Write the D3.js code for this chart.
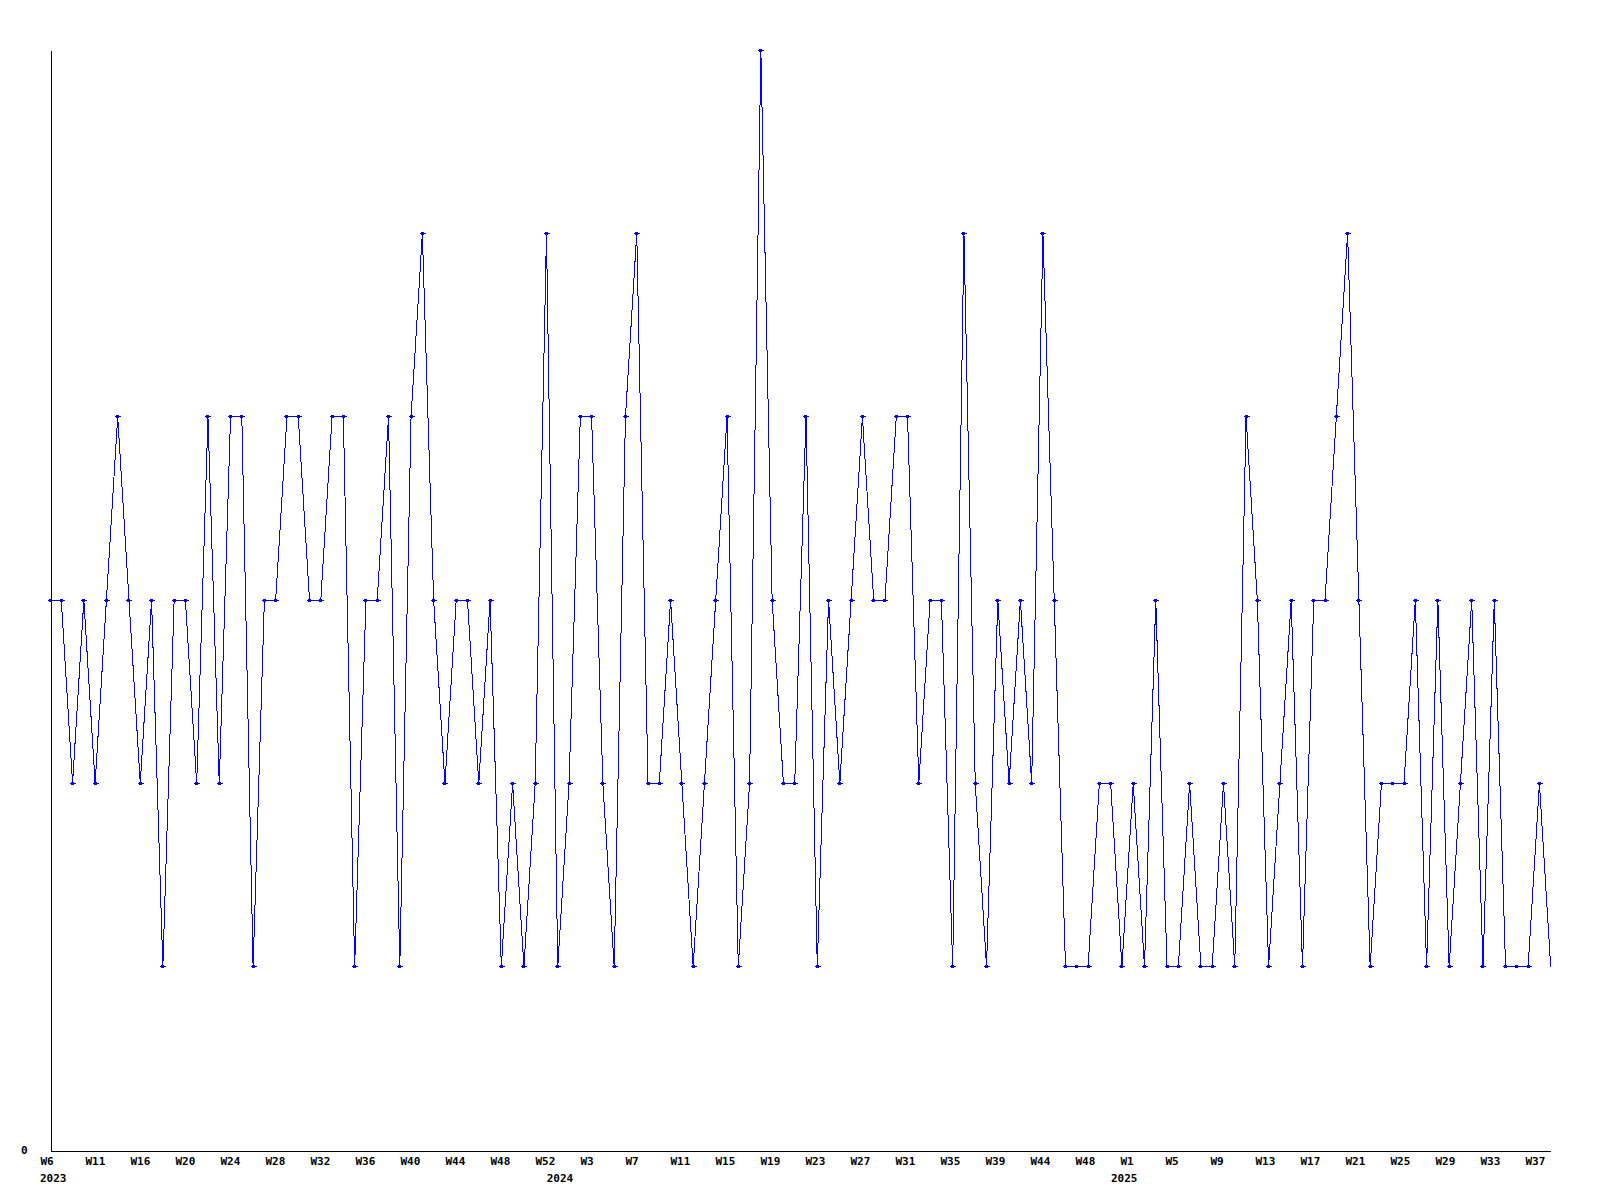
<!DOCTYPE html>
<html>
<head>
<meta charset="utf-8">
<script src="https://cdn.jsdelivr.net/npm/d3@7"></script>
<style>
  body { margin: 0; background: #fff; }
  svg { display: block; }
  .lbl { font-family: "DejaVu Sans Mono", monospace; font-size: 11px; font-weight: bold; fill: #000; }
</style>
</head>
<body>
<svg width="1600" height="1200"></svg>
<script>
// weekly values, W6 2023 onwards
const values = [
  3,3,2,3,2,3,4,3,2,3,1,3,3,2,4,2,4,4,1,3,3,4,4,
  3,3,4,4,1,3,3,4,1,4,5,3,2,3,3,2,3,1,2,1,2,5,
  1,2,4,4,2,1,4,5,2,2,3,2,1,2,3,4,1,2,6,3,2,2,
  4,1,3,2,3,4,3,3,4,4,2,3,3,1,5,2,1,3,2,3,2,5,3,
  1,1,1,2,2,1,2,1,3,1,1,2,1,1,2,1,4,3,1,2,3,1,
  3,3,4,5,3,1,2,2,2,3,1,3,1,2,3,1,3,1,1,1,2,1
];
const tickLabels = ["W6","W11","W16","W20","W24","W28","W32","W36","W40","W44","W48","W52",
  "W3","W7","W11","W15","W19","W23","W27","W31","W35","W39","W44","W48",
  "W1","W5","W9","W13","W17","W21","W25","W29","W33","W37"];
const yearLabels = ["2023","2024","2025"];
const yearAt = [0, 11.26, 23.8]; // in tick steps

let svg = d3.select("svg");

let x = d3.scaleLinear().domain([0, values.length - 1]).range([50, 1550.7]);
let y = d3.scaleLinear().domain([0, 6]).range([1150, 50]);
let tickX = d3.scaleLinear().domain([0, tickLabels.length - 1]).range([40, 40 + 45 * (tickLabels.length - 1)]);

// axis lines
svg.append("g")
   .attr("transform", "translate(0,1150.5)")
   .call(d3.axisBottom(x).tickValues([]).tickSizeOuter(0))
   .attr("shape-rendering", "crispEdges");
let yAx = svg.append("g")
   .attr("transform", "translate(50.5,0)")
   .call(d3.axisLeft(y).tickValues([0]).tickFormat(d3.format("d")).tickSize(0).tickPadding(23).tickSizeOuter(0))
   .attr("shape-rendering", "crispEdges");
yAx.selectAll("text").attr("class", "lbl").attr("font-family", null).attr("font-size", null).attr("dy", "0.35em");

// week labels
let xAx = svg.append("g")
   .attr("transform", "translate(0,1157)")
   .call(d3.axisBottom(tickX)
     .tickValues(d3.range(tickLabels.length))
     .tickFormat(i => tickLabels[i])
     .tickSize(0).tickPadding(0));
xAx.select(".domain").remove();
xAx.selectAll("text").attr("class", "lbl").attr("font-family", null).attr("font-size", null)
   .attr("text-anchor", "start").attr("dy", "0.71em");

svg.append("g").selectAll("text")
   .data(yearLabels)
   .enter()
   .append("text")
   .attr("class", "lbl")
   .attr("x", (d, i) => tickX(yearAt[i]))
   .attr("y", 1182)
   .text(d => d);

// line
let line = d3.line().x((d, i) => x(i)).y(d => y(d));
svg.append("path")
   .datum(values)
   .attr("d", line)
   .attr("fill", "none")
   .attr("stroke", "#0000ff")
   .attr("stroke-width", 1)
   .attr("shape-rendering", "crispEdges");

// point markers (last one falls on the plot edge and is not drawn)
svg.append("g").selectAll("path")
   .data(values.slice(0, -1))
   .enter()
   .append("path")
   .attr("transform", (d, i) => "translate(" + (Math.floor(x(i)) + 0.5) + "," + (Math.floor(y(d)) + 0.5) + ")")
   .attr("d", "M-3,-0.5h6v1h-6z M-1.5,-1.5h3v3h-3z")
   .attr("fill", "#0000ff")
   .attr("shape-rendering", "crispEdges");
</script>
</body>
</html>
